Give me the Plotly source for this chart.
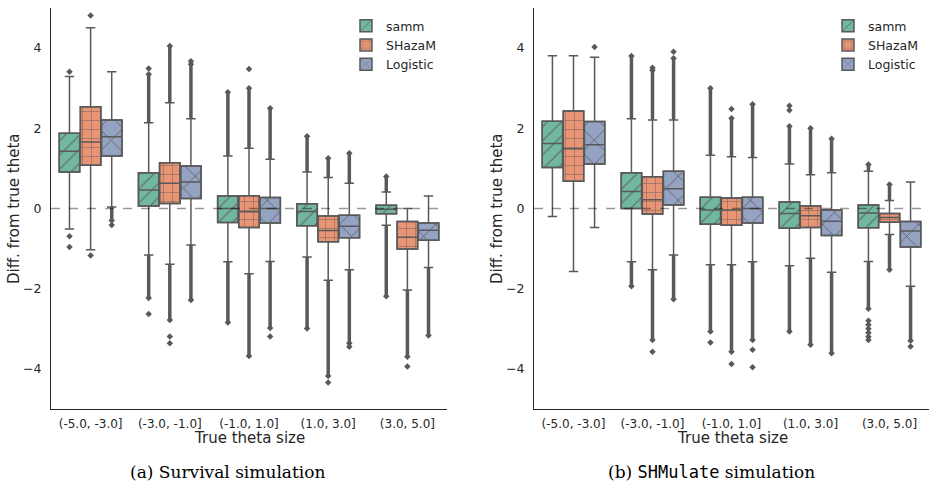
import plotly.graph_objects as go

categories = ["(-5.0, -3.0]", "(-3.0, -1.0]", "(-1.0, 1.0]", "(1.0, 3.0]", "(3.0, 5.0]"]
methods = ["samm", "SHazaM", "Logistic"]
y_ticks = [-4, -2, 0, 2, 4]

# ---------- (a) Survival simulation ----------
surv_samm = dict(q1=[0.91, 0.06, -0.35, -0.43, -0.13], med=[1.43, 0.46, 0.0, -0.075, -0.02],
                 q3=[1.875, 0.89, 0.31, 0.12, 0.08], lo=[-0.51, -1.16, -1.33, -1.21, -0.42],
                 hi=[3.29, 2.14, 1.31, 0.91, 0.41],
                 dense_hi=[None, 3.35, 2.9, 1.8, 0.8], dense_lo=[None, -2.23, -2.84, -2.99, -2.19],
                 iso=[[3.41, -0.69, -0.96], [3.49, -2.63], [], [], []])
surv_shazam = dict(q1=[1.08, 0.125, -0.475, -0.83, -1.01], med=[1.66, 0.63, -0.08, -0.55, -0.72],
                   q3=[2.54, 1.14, 0.32, -0.19, -0.325], lo=[-1.03, -1.39, -1.63, -1.79, -2.03],
                   hi=[4.51, 2.64, 1.5, 0.77, 0.0],
                   dense_hi=[None, 4.05, 3.0, 1.25, None], dense_lo=[None, -2.78, -3.68, -4.18, -3.7],
                   iso=[[4.81, -1.17], [-3.19, -3.36], [3.48], [-4.34], [-3.94]])
surv_logistic = dict(q1=[1.31, 0.25, -0.36, -0.73, -0.79], med=[1.79, 0.66, 0.0, -0.44, -0.54],
                     q3=[2.21, 1.06, 0.275, -0.17, -0.36], lo=[0.04, -0.91, -1.32, -1.53, -1.47],
                     hi=[3.41, 2.24, 1.23, 0.63, 0.31],
                     dense_hi=[None, 3.6, 2.5, 1.38, None], dense_lo=[-0.3, -2.28, -2.98, -3.36, -3.17],
                     iso=[[-0.41], [3.67], [-3.19], [-3.45], []])

# ---------- (b) SHMulate simulation ----------
shm_samm = dict(q1=[1.02, 0.0, -0.39, -0.49, -0.48], med=[1.62, 0.425, -0.04, -0.125, -0.11],
                q3=[2.175, 0.89, 0.28, 0.16, 0.09], lo=[-0.2, -1.33, -1.4, -1.43, -1.32],
                hi=[3.81, 2.24, 1.325, 1.11, 0.93],
                dense_hi=[None, 3.8, 3.0, 2.05, 1.1], dense_lo=[None, -1.94, -3.07, -3.07, -2.5],
                iso=[[], [], [-3.34], [2.45, 2.56], [-2.8, -2.9, -3.0, -3.1, -3.2, -3.28]])
shm_shazam = dict(q1=[0.68, -0.14, -0.42, -0.475, -0.34], med=[1.49, 0.22, -0.04, -0.18, -0.225],
                  q3=[2.43, 0.79, 0.26, 0.06, -0.125], lo=[-1.57, -1.53, -1.4, -1.24, -0.65],
                  hi=[3.81, 2.21, 1.29, 0.84, 0.2],
                  dense_hi=[None, 3.45, 2.25, 2.0, 0.6], dense_lo=[None, -3.28, -3.57, -3.4, -1.53],
                  iso=[[], [3.51, -3.57], [2.48, -3.875], [], []])
shm_logistic = dict(q1=[1.11, 0.09, -0.36, -0.675, -0.96], med=[1.59, 0.49, 0.0, -0.32, -0.56],
                    q3=[2.17, 0.93, 0.28, -0.04, -0.325], lo=[-0.475, -1.16, -1.33, -1.59, -1.94],
                    hi=[3.77, 2.21, 1.27, 0.89, 0.66],
                    dense_hi=[None, 3.75, 2.6, 1.74, None], dense_lo=[None, -2.26, -3.28, -3.61, -3.3],
                    iso=[[4.03], [3.91], [-3.52, -3.96], [], [-3.44]])

panels = [[surv_samm, surv_shazam, surv_logistic], [shm_samm, shm_shazam, shm_logistic]]

colors = ["#71b7a1", "#e99575", "#95a3c3"]
patterns = [("/", 10), ("+", 9), ("x", 17)]
gray = "#595959"
txt = "#262626"
font = "DejaVu Sans"
hue_w = 0.8 / 3
offsets = [-hue_w, 0.0, hue_w]

fig = go.Figure()

for p, panel in enumerate(panels):
    xa = "x" if p == 0 else "x2"
    ya = "y" if p == 0 else "y2"
    leg = "legend" if p == 0 else "legend2"
    for h, d in enumerate(panel):
        xs = [i + offsets[h] for i in range(len(categories))]
        heights = [b - a for a, b in zip(d["q1"], d["q3"])]
        fig.add_trace(go.Bar(
            x=xs, y=heights, base=d["q1"], width=hue_w * 0.97, name=methods[h],
            xaxis=xa, yaxis=ya, legend=leg, showlegend=True,
            marker=dict(color=colors[h], line=dict(color=gray, width=1.5),
                        pattern=dict(shape=patterns[h][0], size=patterns[h][1],
                                     solidity=0.1, fgcolor=gray, fgopacity=0.9)),
            hoverinfo="skip"))
    for h, d in enumerate(panel):
        xs = [i + offsets[h] for i in range(len(categories))]
        fig.add_trace(go.Box(
            x=xs, q1=d["q1"], median=d["med"], q3=d["q3"],
            lowerfence=d["lo"], upperfence=d["hi"], width=hue_w * 0.97,
            whiskerwidth=0.46, fillcolor="rgba(0,0,0,0)", line=dict(color=gray, width=1.5),
            boxpoints=False, xaxis=xa, yaxis=ya, showlegend=False, hoverinfo="skip"))
    # outliers
    for h, d in enumerate(panel):
        lx, ly, mx, my = [], [], [], []
        for i in range(len(categories)):
            x = i + offsets[h]
            if d["dense_hi"][i] is not None:
                lx += [x, x, None]
                ly += [d["hi"][i], d["dense_hi"][i], None]
                mx.append(x); my.append(d["dense_hi"][i])
            if d["dense_lo"][i] is not None:
                lx += [x, x, None]
                ly += [d["lo"][i], d["dense_lo"][i], None]
                mx.append(x); my.append(d["dense_lo"][i])
            for v in d["iso"][i]:
                mx.append(x); my.append(v)
        fig.add_trace(go.Scatter(x=lx, y=ly, mode="lines", line=dict(color=gray, width=3.5),
                                 xaxis=xa, yaxis=ya, showlegend=False, hoverinfo="skip"))
        fig.add_trace(go.Scatter(x=mx, y=my, mode="markers",
                                 marker=dict(symbol="diamond", size=5, color=gray),
                                 xaxis=xa, yaxis=ya, showlegend=False, hoverinfo="skip"))

axis_common_x = dict(range=[-0.5, 4.5], tickmode="array", tickvals=list(range(len(categories))),
                     ticktext=categories, showline=True, linecolor=txt, linewidth=1.25,
                     showgrid=False, zeroline=False, ticks="", automargin=False,
                     tickfont=dict(family=font, size=12, color=txt), ticklabelstandoff=3)
axis_common_y = dict(range=[-5, 5], tickmode="array", tickvals=y_ticks,
                     ticktext=[("−" + str(abs(v))) if v < 0 else str(v) for v in y_ticks],
                     showline=True, linecolor=txt, linewidth=1.25,
                     showgrid=False, zeroline=False, ticks="", automargin=False,
                     tickfont=dict(family=font, size=12.5, color=txt), ticklabelstandoff=6)

y_dom = [78 / 487, 479 / 487]
fig.update_layout(
    width=930, height=487, margin=dict(l=0, r=0, t=0, b=0),
    paper_bgcolor="white", plot_bgcolor="white", barmode="overlay", boxmode="overlay",
    xaxis=dict(domain=[51 / 930, 447 / 930], anchor="y", **axis_common_x),
    yaxis=dict(domain=y_dom, anchor="x", **axis_common_y),
    xaxis2=dict(domain=[534 / 930, 929 / 930], anchor="y2", **axis_common_x),
    yaxis2=dict(domain=y_dom, anchor="x2", **axis_common_y),
    legend=dict(x=346 / 930, y=1 - 11 / 487, xanchor="left", yanchor="top",
                bgcolor="rgba(0,0,0,0)", font=dict(family=font, size=12.5, color=txt),
                itemwidth=30, tracegroupgap=0),
    legend2=dict(x=828 / 930, y=1 - 11 / 487, xanchor="left", yanchor="top",
                 bgcolor="rgba(0,0,0,0)", font=dict(family=font, size=12.5, color=txt),
                 itemwidth=30, tracegroupgap=0),
    showlegend=True,
)

# zero reference lines
for xr, yr in [("x", "y"), ("x2", "y2")]:
    fig.add_shape(type="line", xref=xr + " domain", yref=yr, x0=0, x1=1, y0=0, y1=0,
                  line=dict(color="rgba(0,0,0,0.4)", width=1.3, dash="dash"), layer="above")

ann_font = dict(family=font, size=15, color=txt)
annotations = [
    dict(text="Diff. from true theta", x=14 / 930, y=1 - 209 / 487, textangle=-90),
    dict(text="Diff. from true theta", x=497 / 930, y=1 - 209 / 487, textangle=-90),
    dict(text="True theta size", x=249 / 930, y=1 - 438 / 487),
    dict(text="True theta size", x=732 / 930, y=1 - 438 / 487),
]
for a in annotations:
    fig.add_annotation(xref="paper", yref="paper", showarrow=False, font=ann_font,
                       xanchor="center", yanchor="middle", **a)

cap_font = dict(family="DejaVu Serif", size=17, color="black")
fig.add_annotation(text="(a) Survival simulation", x=227 / 930, y=1 - 472 / 487,
                   xref="paper", yref="paper", showarrow=False, font=cap_font,
                   xanchor="center", yanchor="middle")
fig.add_annotation(text="(b) <span style=\"font-family:'DejaVu Sans Mono'\">SHMulate</span> simulation",
                   x=711 / 930, y=1 - 472 / 487,
                   xref="paper", yref="paper", showarrow=False, font=cap_font,
                   xanchor="center", yanchor="middle")

fig.write_html("out.html", config={"displayModeBar": False},
               post_script="document.body.style.margin='0';document.body.style.padding='0';")
